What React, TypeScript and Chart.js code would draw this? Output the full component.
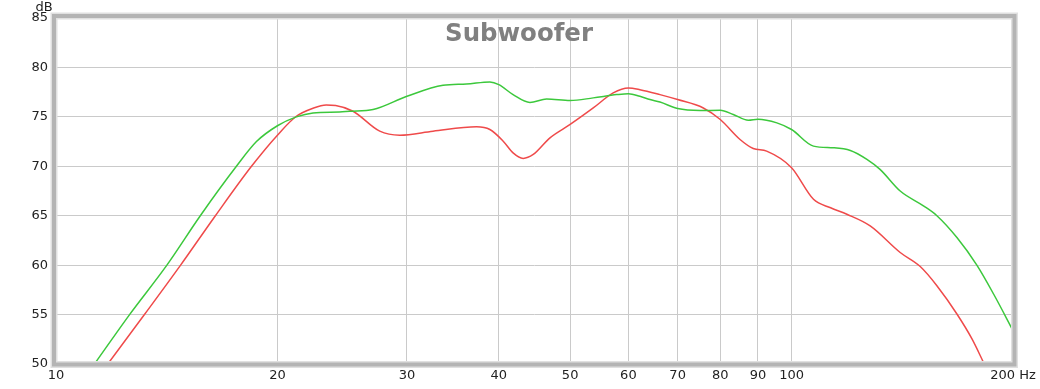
import React, { useEffect, useRef } from "react";
import { Chart, registerables } from "chart.js";

Chart.register(...registerables);

const chartTitle = "Subwoofer";
const yUnitLabel = "dB";
const xTickValues = [10, 20, 30, 40, 50, 60, 70, 80, 90, 100, 200];
const xTickLabels = ["10", "20", "30", "40", "50", "60", "70", "80", "90", "100", "200 Hz"];
const yTickValues = [50, 55, 60, 65, 70, 75, 80, 85];

const greenFreq = [
  11.28, 12.59, 14.15, 15.71, 17.59, 18.73, 20, 21.22, 22.36, 24.3, 25.08, 26.98, 30, 33.59,
  36.14, 38.89, 40, 41.82, 44.09, 46.45, 50, 53.75, 57.83, 60, 62.2, 64.2, 66.24, 70, 75.07,
  80, 83.31, 87.35, 90, 95.5, 100, 107.1, 114, 120.2, 126.6, 131.9, 140.5, 151.1, 157.6,
  167.8, 178.6, 188.2, 200,
];
const greenDb = [
  50, 55, 60, 65, 70, 72.5, 74.1, 75.0, 75.4, 75.5, 75.57, 75.74, 77.08, 78.19,
  78.32, 78.53, 78.26, 77.25, 76.45, 76.81, 76.65, 76.92, 77.25, 77.35, 77.08, 76.75, 76.5, 75.84, 75.64,
  75.67, 75.24, 74.66, 74.76, 74.39, 73.72, 72.04, 71.87, 71.6, 70.7, 69.69, 67.5, 66.0, 65.0,
  62.79, 60.0, 57.08, 53.38,
];

const redFreq = [
  11.76, 13.19, 14.77, 16.47, 18.44, 20, 21.22, 22.4, 23.3, 24.0, 25.34, 27.55, 29.34, 32.55,
  37.3, 38.89, 40.55, 41.82, 43.16, 44.55, 46.94, 50, 53.75, 57.22, 60, 62.2, 66.24, 70, 75.86,
  80, 85.1, 88.7, 92.5, 100, 107.1, 113, 118.9, 127.9, 140.5, 149.6, 157.6, 167.8, 175.9, 182.8,
];
const redDb = [
  50, 55, 60, 65, 70, 73.15, 75.06, 75.9, 76.2, 76.15, 75.57, 73.55, 73.15, 73.55,
  73.99, 73.72, 72.54, 71.36, 70.8, 71.2, 72.88, 74.23, 75.9, 77.42, 77.92, 77.75, 77.25, 76.75, 75.9,
  74.73, 72.71, 71.8, 71.53, 69.85, 66.66, 65.8, 65.15, 63.97, 61.28, 59.86, 57.92, 55.06, 52.54, 50.0,
];

const tickFont = { family: "'DejaVu Sans', sans-serif", size: 13 };
const tickColor = "#222";
const gridColor = "#cacaca";

const decorPlugin = {
  id: "decor",
  afterDraw(chart: any) {
    const { ctx, chartArea } = chart;
    const { left, top, right, bottom } = chartArea;
    ctx.save();
    // frame with soft shadow
    const x0 = left - 2, y0 = top - 2, x1 = right + 1.5, y1 = bottom + 0.5;
    ctx.strokeStyle = "#e0e0e0";
    ctx.lineWidth = 7;
    ctx.strokeRect(x0, y0, x1 - x0, y1 - y0);
    ctx.strokeStyle = "#b4b4b4";
    ctx.lineWidth = 4;
    ctx.strokeRect(x0, y0, x1 - x0, y1 - y0);

    // title
    let size = 26;
    ctx.font = `bold ${size}px 'DejaVu Sans', sans-serif`;
    const w = ctx.measureText(chartTitle).width;
    size = size * (148 / w);
    ctx.font = `bold ${size}px 'DejaVu Sans', sans-serif`;
    ctx.fillStyle = "#808080";
    ctx.textAlign = "center";
    ctx.textBaseline = "alphabetic";
    ctx.fillText(chartTitle, 519, 40.5);

    // unit label
    ctx.font = `13px 'DejaVu Sans', sans-serif`;
    ctx.fillStyle = tickColor;
    ctx.textAlign = "center";
    ctx.fillText(yUnitLabel, 44, 10.5);
    ctx.restore();
  },
};

export default function App() {
  const ref = useRef<HTMLCanvasElement | null>(null);

  useEffect(() => {
    if (!ref.current) return;
    const chart = new Chart(ref.current, {
      type: "line",
      data: {
        datasets: [
          {
            data: greenFreq.map((f, i) => ({ x: f, y: greenDb[i] })),
            borderColor: "#3cc83c",
            borderWidth: 1.5,
            pointRadius: 0,
            cubicInterpolationMode: "monotone",
            fill: false,
          },
          {
            data: redFreq.map((f, i) => ({ x: f, y: redDb[i] })),
            borderColor: "#ef4a4a",
            borderWidth: 1.5,
            pointRadius: 0,
            cubicInterpolationMode: "monotone",
            fill: false,
          },
        ],
      },
      options: {
        responsive: false,
        animation: false,
        devicePixelRatio: 1,
        layout: { padding: { top: 18, right: 27, left: 0, bottom: 0 } },
        plugins: {
          legend: { display: false },
          tooltip: { enabled: false },
          title: { display: false },
        },
        scales: {
          x: {
            type: "logarithmic",
            min: 10,
            max: 200,
            afterBuildTicks: (s: any) => {
              s.ticks = xTickValues.map((v) => ({ value: v }));
            },
            afterFit: (s: any) => {
              s.height = 25;
            },
            ticks: {
              autoSkip: false,
              maxRotation: 0,
              minRotation: 0,
              padding: 4,
              font: tickFont,
              color: tickColor,
              callback: (v: any) => {
                const i = xTickValues.indexOf(Number(v));
                return i >= 0 ? xTickLabels[i] : "";
              },
            },
            grid: { color: gridColor, drawTicks: false, lineWidth: 1 },
            border: { display: false },
          },
          y: {
            type: "linear",
            min: 50,
            max: 85,
            afterBuildTicks: (s: any) => {
              s.ticks = yTickValues.map((v) => ({ value: v }));
            },
            afterFit: (s: any) => {
              s.width = 56;
            },
            ticks: {
              padding: 8,
              font: tickFont,
              color: tickColor,
              callback: (v: any) => String(v),
            },
            grid: { color: gridColor, drawTicks: false, lineWidth: 1 },
            border: { display: false },
          },
        },
      },
      plugins: [decorPlugin],
    } as any);
    return () => chart.destroy();
  }, []);

  return (
    <div style={{ position: "fixed", left: 0, top: 0, width: 1040, height: 389, background: "#fff" }}>
      <canvas ref={ref} width={1040} height={389} style={{ display: "block", width: 1040, height: 389 }} />
    </div>
  );
}
